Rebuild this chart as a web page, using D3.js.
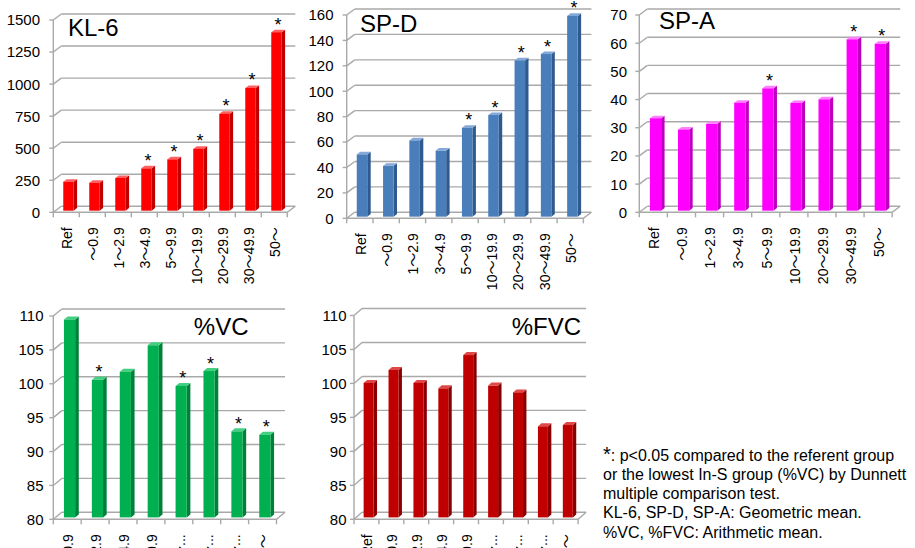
<!DOCTYPE html>
<html>
<head>
<meta charset="utf-8">
<script src="https://cdn.jsdelivr.net/npm/d3@7"></script>
<style>
  body { margin: 0; background: #fff; }
  svg { display: block; }
  text { font-family: "Liberation Sans", Arial, "Noto Sans CJK JP", sans-serif; fill: #000; }
</style>
</head>
<body>
<svg id="chart" width="915" height="548"></svg>
<script>
// Exposure groups
const groups = ["Ref", "～0.9", "1～2.9", "3～4.9", "5～9.9", "10～19.9", "20～29.9", "30～49.9", "50～"];
const groupsShort = ["Ref", "～0.9", "1～2.9", "3～4.9", "5～9.9", "10～...", "20～...", "30～...", "50～"];

// Serum markers (geometric mean)
const kl6 = [226, 218, 255, 330, 400, 482, 755, 957, 1392];
const kl6Sig = [0, 0, 0, 1, 1, 1, 1, 1, 1];
const spd = [49, 40, 60, 52, 70, 80, 123, 128, 158];
const spdSig = [0, 0, 0, 0, 1, 1, 1, 1, 1];
const spa = [32.8, 28.8, 30.8, 38.3, 43.4, 38.2, 39.5, 60.8, 59.2];
const spaSig = [0, 0, 0, 0, 1, 0, 0, 1, 1];

// Lung function (arithmetic mean); %VC has no Ref group
const vcGroups = groupsShort.slice(1);
const vc = [109.2, 100.3, 101.5, 105.4, 99.4, 101.6, 92.7, 92.2];
const vcSig = [0, 1, 0, 0, 1, 1, 1, 1];
const fvc = [99.8, 101.7, 99.8, 99.0, 103.9, 99.4, 98.4, 93.4, 93.6];
const fvcSig = [0, 0, 0, 0, 0, 0, 0, 0, 0];

// Axis ticks
const kl6Ticks = [0, 250, 500, 750, 1000, 1250, 1500];
const spdTicks = [0, 20, 40, 60, 80, 100, 120, 140, 160];
const spaTicks = [0, 10, 20, 30, 40, 50, 60, 70];
const pctTicks = [80, 85, 90, 95, 100, 105, 110];

const footnote = [
  ": p<0.05 compared to the referent group",
  "or the lowest In-S group (%VC) by Dunnett",
  "multiple comparison test.",
  "KL-6, SP-D, SP-A: Geometric mean.",
  "%VC, %FVC: Arithmetic mean."
];

const svg = d3.select("#chart");

// Depth of the 3-D box and the slab a column occupies within it
const D0 = 0.27, D1 = 0.70;

const panels = [
  { title: "KL-6", cats: groups, values: kl6, sig: kl6Sig, ticks: kl6Ticks,
    x0: 53.3, step: 26.0, yBot: 212.3, yTop: 20, dx: 8, dy: -6, labelRight: 40,
    titleX: 68, titleY: 36, titleAnchor: "start",
    colors: { front: "#ff0000", side: "#c00000", top: "#ff6060" } },
  { title: "SP-D", cats: groups, values: spd, sig: spdSig, ticks: spdTicks,
    x0: 346.7, step: 26.3, yBot: 218.3, yTop: 15, dx: 8, dy: -6, labelRight: 333.5,
    titleX: 360, titleY: 31.5, titleAnchor: "start",
    colors: { front: "#4a7ebb", side: "#2f5a8e", top: "#84a9d9" } },
  { title: "SP-A", cats: groups, values: spa, sig: spaSig, ticks: spaTicks,
    x0: 639.3, step: 28.1, yBot: 212.3, yTop: 15, dx: 8, dy: -6, labelRight: 627,
    titleX: 659, titleY: 29.3, titleAnchor: "start",
    colors: { front: "#ff00ff", side: "#c000c0", top: "#ff80ff" } },
  { title: "%VC", cats: vcGroups, values: vc, sig: vcSig, ticks: pctTicks,
    x0: 53.3, step: 27.9, yBot: 519.3, yTop: 316, dx: 8.5, dy: -7, labelRight: 43.5,
    titleX: 248.5, titleY: 335, titleAnchor: "end",
    colors: { front: "#00b050", side: "#00803a", top: "#40d080" } },
  { title: "%FVC", cats: groupsShort, values: fvc, sig: fvcSig, ticks: pctTicks,
    x0: 354, step: 24.9, yBot: 519.3, yTop: 315.5, dx: 8, dy: -7, labelRight: 346.5,
    titleX: 581, titleY: 335, titleAnchor: "end",
    colors: { front: "#c00000", side: "#8a0000", top: "#e04848" } }
];

const gridColor = "#a9a9a9";

panels.forEach(p => {
  const g = svg.append("g");
  const n = p.cats.length;
  const x1 = p.x0 + n * p.step;

  const x = d3.scaleBand()
    .domain(p.cats)
    .range([p.x0, x1])
    .paddingInner(0.6)
    .paddingOuter(0.3);
  const y = d3.scaleLinear()
    .domain(d3.extent(p.ticks))
    .range([p.yBot, p.yTop]);

  // Back wall gridlines, side-wall connectors and tick marks
  const grid = g.append("g").attr("stroke", gridColor).attr("stroke-width", 1.4).attr("fill", "none");
  p.ticks.forEach(t => {
    const yy = y(t);
    grid.append("line")
      .attr("x1", p.x0 + p.dx).attr("x2", x1 + p.dx)
      .attr("y1", yy + p.dy).attr("y2", yy + p.dy);
    grid.append("line")
      .attr("x1", p.x0).attr("x2", p.x0 + p.dx)
      .attr("y1", yy).attr("y2", yy + p.dy);
    grid.append("line")
      .attr("x1", p.x0 - 4).attr("x2", p.x0)
      .attr("y1", yy).attr("y2", yy);
  });

  // Floor outline
  grid.append("path")
    .attr("d", `M${p.x0},${p.yBot} L${x1},${p.yBot} L${x1 + p.dx},${p.yBot + p.dy}`);
  // Value axis
  grid.append("line")
    .attr("x1", p.x0).attr("x2", p.x0)
    .attr("y1", p.yBot).attr("y2", y(p.ticks[p.ticks.length - 1]));
  // Category tick marks
  d3.range(n + 1).forEach(i => {
    const xx = p.x0 + i * p.step;
    grid.append("line")
      .attr("x1", xx).attr("x2", xx)
      .attr("y1", p.yBot).attr("y2", p.yBot + 5);
  });

  // Value labels
  g.append("g").selectAll("text")
    .data(p.ticks)
    .join("text")
    .attr("x", p.labelRight)
    .attr("y", d => y(d))
    .attr("dy", "0.36em")
    .attr("text-anchor", "end")
    .attr("font-size", 15)
    .text(d => d);

  // Category labels (rotated)
  g.append("g").selectAll("text")
    .data(p.cats)
    .join("text")
    .attr("transform", d => `translate(${x(d) + x.bandwidth() / 2 + 0.8},${p.yBot + 15}) rotate(-90)`)
    .attr("dy", "0.36em")
    .attr("text-anchor", "end")
    .attr("font-size", 14)
    .text(d => d);

  // 3-D columns
  const ox0 = D0 * p.dx, oy0 = D0 * p.dy;
  const sdx = (D1 - D0) * p.dx, sdy = (D1 - D0) * p.dy;
  const base = y.domain()[0];
  const bars = g.append("g");
  p.cats.forEach((c, i) => {
    const v = p.values[i];
    const L = x(c) + ox0, R = L + x.bandwidth();
    const B = y(base) + oy0, T = y(v) + oy0;
    const bg = bars.append("g");
    bg.append("path")
      .attr("d", `M${R},${B} L${R + sdx},${B + sdy} L${R + sdx},${T + sdy} L${R},${T} Z`)
      .attr("fill", p.colors.side);
    bg.append("path")
      .attr("d", `M${L},${T} L${R},${T} L${R + sdx},${T + sdy} L${L + sdx},${T + sdy} Z`)
      .attr("fill", p.colors.top);
    bg.append("rect")
      .attr("x", L).attr("y", T)
      .attr("width", R - L).attr("height", B - T)
      .attr("fill", p.colors.front);

    if (p.sig[i]) {
      g.append("text")
        .attr("x", (L + R) / 2 + 1.5)
        .attr("y", T - 1.5)
        .attr("text-anchor", "middle")
        .attr("font-size", 18)
        .text("*");
    }
  });

  // Panel title
  g.append("text")
    .attr("x", p.titleX).attr("y", p.titleY)
    .attr("text-anchor", p.titleAnchor)
    .attr("font-size", 24)
    .text(p.title);
});

// Footnote
const note = svg.append("text").attr("font-size", 16);
footnote.forEach((line, i) => {
  if (i === 0) {
    note.append("tspan").attr("x", 603).attr("y", 460.5).attr("font-size", 20).text("*");
    note.append("tspan").text(line);
  } else {
    note.append("tspan").attr("x", 603).attr("y", 460.5 + i * 19.3).text(line);
  }
});
</script>
</body>
</html>
